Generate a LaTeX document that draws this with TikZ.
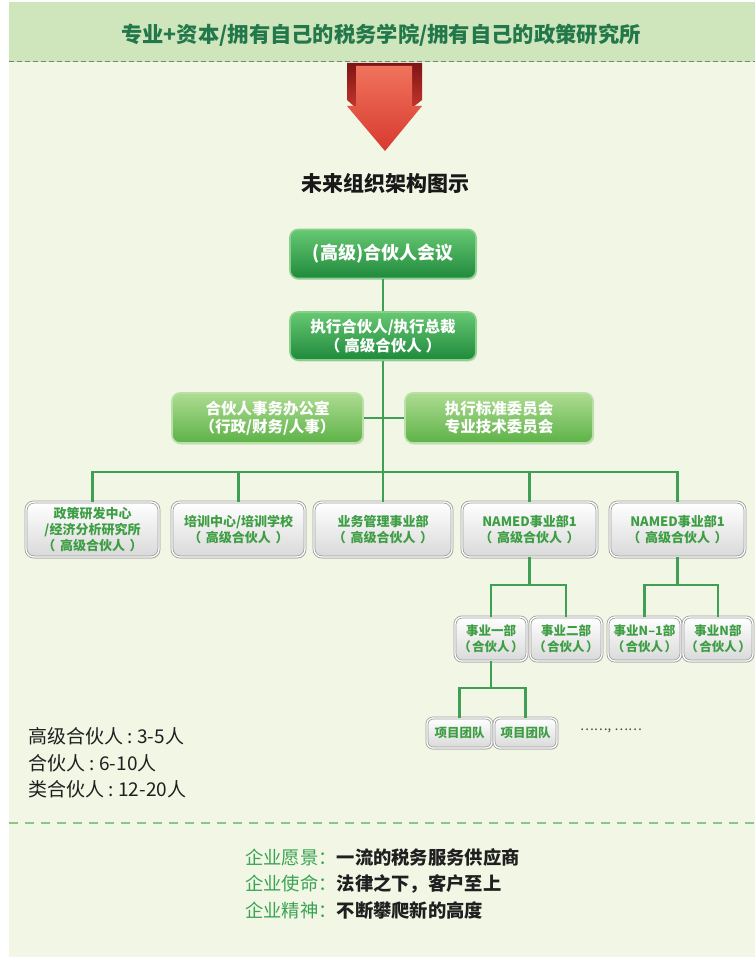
\documentclass[tikz,border=0pt]{standalone}
\usepackage{fontspec}
\setmainfont{Noto Sans CJK SC}
\usetikzlibrary{shadows}
\definecolor{panel}{HTML}{F1F6E5}
\definecolor{band}{HTML}{CFE5BB}
\definecolor{headtext}{HTML}{22784A}
\definecolor{wire}{HTML}{3F9F55}
\definecolor{dka}{HTML}{66C872}
\definecolor{dkb}{HTML}{1F8A3C}
\definecolor{dkrim}{HTML}{8ACF8C}
\definecolor{lta}{HTML}{AEDC92}
\definecolor{ltb}{HTML}{5DB247}
\definecolor{ltrim}{HTML}{B8E0A8}
\definecolor{grayrim}{HTML}{9C9C9C}
\definecolor{graybot}{HTML}{D9D9D9}
\definecolor{boxgreen}{HTML}{3E9E44}
\definecolor{mottogreen}{HTML}{3AA352}
\definecolor{redlight}{HTML}{F0735C}
\definecolor{reddeep}{HTML}{D73A2E}
\definecolor{redback1}{HTML}{7E1414}
\definecolor{redback2}{HTML}{C4362C}
\definecolor{dashgray}{HTML}{6F8471}
\definecolor{dashgreen}{HTML}{8CC48E}
\newcommand{\mycolon}{\makebox[0.75em]{:}}
\newcommand{\lpar}[1]{（\hspace{#1}}
\newcommand{\rpar}[1]{\hspace{#1}）}
\begin{document}
\begin{tikzpicture}[x=1pt,y=-1pt,
  boxbase/.style={rounded corners=8pt, align=center, inner sep=0pt},
  darkbox/.style={boxbase, draw=dkrim, line width=1.6pt, top color=dka, bottom color=dkb, text=white,
    drop shadow={shadow xshift=1pt, shadow yshift=-1.5pt, opacity=0.25},
    font=\fontsize{16}{20}\selectfont\bfseries},
  lightbox/.style={boxbase, draw=ltrim, line width=1.6pt, top color=lta, bottom color=ltb, text=white,
    drop shadow={shadow xshift=1pt, shadow yshift=-1.5pt, opacity=0.25},
    font=\fontsize{15.5}{18}\selectfont\bfseries},
  graybox/.style={boxbase, draw=grayrim, line width=0.8pt, double=white, double distance=1.3pt,
    top color=white, bottom color=graybot, text=boxgreen,
    drop shadow={shadow xshift=1pt, shadow yshift=-1.5pt, opacity=0.2},
    font=\fontsize{13}{16}\selectfont\bfseries},
  smallbox/.style={graybox, rounded corners=7pt, font=\fontsize{12.5}{16}\selectfont\bfseries},
  wireline/.style={draw=wire, line width=2.4pt},
  note/.style={anchor=west, inner sep=0pt, font=\fontsize{19}{22}\selectfont, text=black!88},
  motto/.style={anchor=west, inner sep=0pt, font=\fontsize{18.3}{22}\selectfont\bfseries, text=black!88}
]
\useasboundingbox (0,0) rectangle (755,957);
% panel and band
\fill[panel] (9,2) rectangle (755,957);
\fill[band] (9,2) rectangle (755,62);
\draw[dashgray, line width=1pt, dash pattern=on 5pt off 3pt] (9,62) -- (755,62);
\node[inner sep=0pt, text=headtext, font=\fontsize{21.3}{25}\selectfont\bfseries] (head) at (381,35) {专业+资本/拥有自己的税务学院/拥有自己的政策研究所};
% arrow
\shade[top color=redback1, bottom color=redback2] (347,63) -- (422,63) -- (422,100) -- (412,108) -- (356,108) -- (347,100) -- cycle;
\shade[top color=redlight, bottom color=reddeep] (356,66) -- (412,66) -- (412,106) -- (422,106) -- (385,151) -- (347,106) -- (356,106) -- cycle;
\node[inner sep=0pt, font=\fontsize{21}{24}\selectfont\bfseries, text=black!90] (title) at (385,183) {未来组织架构图示};
% top nodes
\node[darkbox, minimum width=186pt, minimum height=49pt, font=\fontsize{18}{21}\selectfont\bfseries] (n1) at (383,254) {(高级)合伙人会议};
\node[darkbox, minimum width=186pt, minimum height=48pt, font=\fontsize{15.5}{18.5}\selectfont\bfseries] (n2) at (383,336) {执行合伙人/执行总裁\\\lpar{0.25em}高级合伙人\rpar{0.25em}};
\coordinate (j) at (383,472);
\draw[wireline] (n1.south) -- (n2.north);
\draw[wireline] (n2.south) -- (j);
\node[lightbox, minimum width=191pt, minimum height=50pt] (n3) at (267.5,418) {合伙人事务办公室\\（行政/财务/人事）};
\node[lightbox, minimum width=188pt, minimum height=50pt] (n4) at (499,418) {执行标准委员会\\专业技术委员会};
\draw[wireline] (n3.east) -- (n4.west);
% second row
\node[graybox, minimum width=133pt, minimum height=55pt] (a) at (92.5,529.5) {政策研发中心\\/经济分析研究所\\\lpar{0.35em}高级合伙人\rpar{0.35em}};
\node[graybox, minimum width=133pt, minimum height=55pt] (b) at (238.5,529.5) {培训中心/培训学校\\\lpar{0.35em}高级合伙人\rpar{0.35em}};
\node[graybox, minimum width=138pt, minimum height=55pt] (c) at (383,529.5) {业务管理事业部\\\lpar{0.35em}高级合伙人\rpar{0.35em}};
\node[graybox, minimum width=135pt, minimum height=55pt] (d) at (529.5,529.5) {NAMED事业部1\\\lpar{0.35em}高级合伙人\rpar{0.35em}};
\node[graybox, minimum width=135pt, minimum height=55pt] (e) at (677.5,529.5) {NAMED事业部1\\\lpar{0.35em}高级合伙人\rpar{0.35em}};
\draw[wireline] (j) -| (a.north);
\draw[wireline] (j) -| (b.north);
\draw[wireline] (j) -- (c.north);
\draw[wireline] (j) -| (d.north);
\draw[wireline] (j) -| (e.north);
% third row
\node[smallbox, minimum width=72pt, minimum height=44pt] (s1) at (491,639) {事业一部\\\lpar{0.12em}合伙人\rpar{0.12em}};
\node[smallbox, minimum width=72pt, minimum height=44pt] (s2) at (566,639) {事业二部\\\lpar{0.12em}合伙人\rpar{0.12em}};
\node[smallbox, minimum width=73pt, minimum height=44pt] (s3) at (644.5,639) {事业N–1部\\\lpar{0.12em}合伙人\rpar{0.12em}};
\node[smallbox, minimum width=70pt, minimum height=44pt] (s4) at (718,639) {事业N部\\\lpar{0.12em}合伙人\rpar{0.12em}};
\coordinate (jd) at (529.5,585);
\coordinate (je) at (677.5,585);
\draw[wireline] (d.south) -- (jd);
\draw[wireline] (jd) -| (s1.north);
\draw[wireline] (jd) -| (s2.north);
\draw[wireline] (e.south) -- (je);
\draw[wireline] (je) -| (s3.north);
\draw[wireline] (je) -| (s4.north);
% fourth row
\node[smallbox, rounded corners=6pt, minimum width=65pt, minimum height=30pt] (p1) at (459.5,733) {项目团队};
\node[smallbox, rounded corners=6pt, minimum width=63pt, minimum height=30pt] (p2) at (525.5,733) {项目团队};
\coordinate (js) at (491,688);
\draw[wireline] (s1.south) -- (js);
\draw[wireline] (js) -| (p1.north);
\draw[wireline] (js) -| (p2.north);
\node[anchor=west, inner sep=0pt, font=\fontsize{13}{14}\selectfont, text=black!75] (dots) at (580,731) {……, ……};
% left notes
\node[note] (l1) at (28,736) {高级合伙人\mycolon 3-5人};
\node[note] (l2) at (28,763) {合伙人\mycolon 6-10人};
\node[note] (l3) at (28,789) {类合伙人\mycolon 12-20人};
% bottom dashed line
\draw[dashgreen, line width=1.6pt, dash pattern=on 9pt off 7pt] (9,823) -- (755,823);
% mottos
\node[motto] (m1) at (245,857) {\textcolor{mottogreen}{\mdseries 企业愿景：}一流的税务服务供应商};
\node[motto] (m2) at (245,884) {\textcolor{mottogreen}{\mdseries 企业使命：}法律之下，客户至上};
\node[motto] (m3) at (245,911) {\textcolor{mottogreen}{\mdseries 企业精神：}不断攀爬新的高度};
\end{tikzpicture}
\end{document}
